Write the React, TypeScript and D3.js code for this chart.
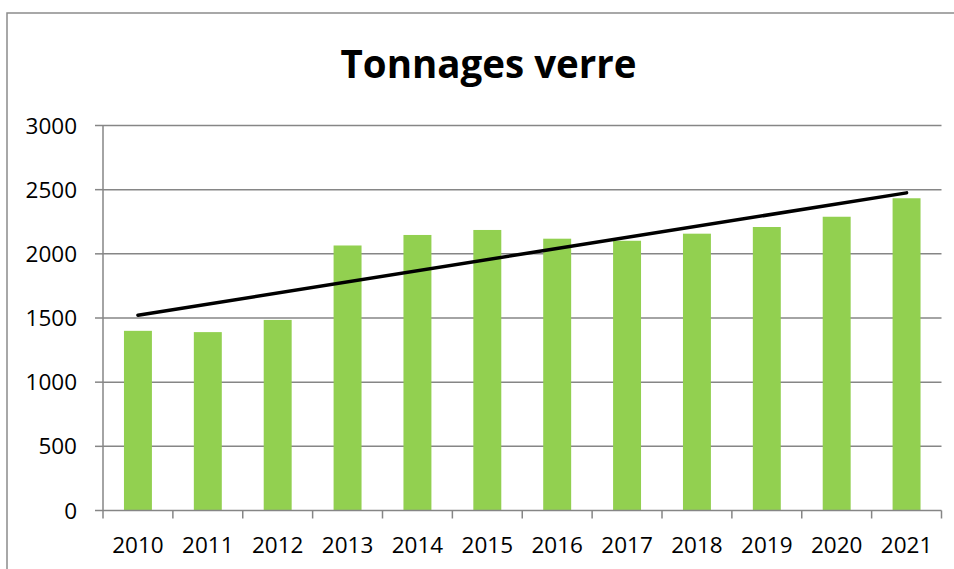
import React from "react";
import * as d3 from "d3";

const years = ["2010","2011","2012","2013","2014","2015","2016","2017","2018","2019","2020","2021"];
const tonnages = [1400, 1390, 1485, 2065, 2147, 2186, 2118, 2102, 2157, 2209, 2289, 2433];
const yTicks = [0, 500, 1000, 1500, 2000, 2500, 3000];
const title = "Tonnages verre";

export default function App() {
  const W = 954, H = 569;
  const left = 103, right = 941.5, top = 125.5, bottom = 510.5;
  const x = d3.scaleBand<string>().domain(years).range([left, right]).paddingInner(0.6).paddingOuter(0.3);
  const xb = d3.scaleBand<string>().domain(years).range([left, right]);
  const y = d3.scaleLinear().domain([0, 3000]).range([bottom, top]);

  // linear trend (least squares)
  const n = tonnages.length;
  const idx = d3.range(n);
  const mx = d3.mean(idx)!;
  const my = d3.mean(tonnages)!;
  const slope = d3.sum(idx, (i) => (i - mx) * (tonnages[i] - my)) / d3.sum(idx, (i) => (i - mx) ** 2);
  const icpt = my - slope * mx;
  const cx = (i: number) => xb(years[i])! + xb.bandwidth() / 2;
  const trend = d3.line<number>().x((i) => cx(i)).y((i) => y(icpt + slope * i));

  const grid = "#868686";
  const font = "'Open Sans', sans-serif";

  return (
    <svg width={W} height={H} style={{ position: "absolute", left: 0, top: 0, background: "#fff" }}>
      <rect x={7} y={13} width={W + 20} height={H + 20} fill="#fff" stroke="#8c8c8c" strokeWidth={1.5} />
      <text x={488.5} y={77.5} textAnchor="middle" fontFamily={font} fontWeight="bold" fontSize={38.5} fill="#000">{title}</text>
      {yTicks.map((t) => (
        <g key={t}>
          {t > 0 && <line x1={left} x2={right} y1={y(t)} y2={y(t)} stroke={grid} strokeWidth={1.5} />}
          <line x1={95} x2={left} y1={y(t)} y2={y(t)} stroke={grid} strokeWidth={1.5} />
          <text x={77} y={y(t)} dy="0.36em" textAnchor="end" fontFamily={font} fontSize={22.5} fill="#000">{t}</text>
        </g>
      ))}
      {years.map((yr, i) => (
        <rect key={yr} x={x(yr)} y={y(tonnages[i])} width={x.bandwidth()} height={bottom - y(tonnages[i])} fill="#92D050" />
      ))}
      <line x1={left} x2={left} y1={top} y2={bottom} stroke={grid} strokeWidth={1.5} />
      <line x1={left} x2={right} y1={bottom} y2={bottom} stroke={grid} strokeWidth={1.5} />
      {[...years.map((yr) => xb(yr)!), right].map((tx, i) => (
        <line key={i} x1={tx} x2={tx} y1={bottom} y2={bottom + 8} stroke={grid} strokeWidth={1.5} />
      ))}
      {years.map((yr) => (
        <text key={yr} x={xb(yr)! + xb.bandwidth() / 2} y={553} textAnchor="middle" fontFamily={font} fontSize={22.5} fill="#000">{yr}</text>
      ))}
      <path d={trend([0, n - 1]) || ""} fill="none" stroke="#000" strokeWidth={3.5} strokeLinecap="round" />
    </svg>
  );
}
